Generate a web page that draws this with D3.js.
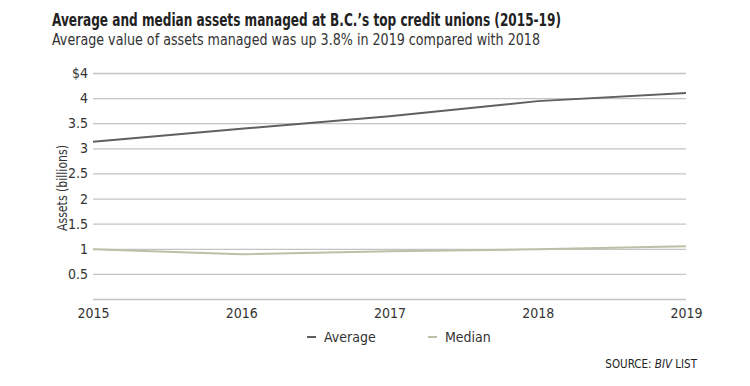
<!DOCTYPE html>
<html>
<head>
<meta charset="utf-8">
<script src="https://cdn.jsdelivr.net/npm/d3@7"></script>
<style>
  body { margin: 0; background: #fff; }
  svg text { font-family: "DejaVu Sans Condensed", "DejaVu Sans", sans-serif; font-stretch: condensed; }
</style>
</head>
<body>
<div id="chart"></div>
<script>
// data
const years = [2015, 2016, 2017, 2018, 2019]
const average = [3.13, 3.39, 3.64, 3.94, 4.10]
const median = [0.99, 0.89, 0.95, 0.99, 1.05]
const yTicks = [0, 0.5, 1, 1.5, 2, 2.5, 3, 3.5, 4, 4.5]
const yTickLabels = ['', '0.5', '1', '1.5', '2', '2.5', '3', '3.5', '4', '$4']

const w = 750, h = 386
const margin = {top: 73, right: 64, bottom: 87, left: 93}

let svg = d3.select('#chart')
    .append('svg')
    .attr('width', w)
    .attr('height', h)

let x = d3.scaleLinear()
    .domain([2015, 2019])
    .range([margin.left, w - margin.right])

let y = d3.scaleLinear()
    .domain([0, 4.5])
    .range([h - margin.bottom, margin.top])

// title + subtitle, squeezed to the widths in the original
svg.append('text')
    .attr('x', 52).attr('y', 26)
    .attr('font-size', 18).attr('font-weight', 'bold')
    .attr('fill', '#222')
    .attr('textLength', 509)
    .attr('lengthAdjust', 'spacingAndGlyphs')
    .text('Average and median assets managed at B.C.\u2019s top credit unions (2015-19)')

svg.append('text')
    .attr('x', 52).attr('y', 45)
    .attr('font-size', 15)
    .attr('fill', '#333')
    .attr('textLength', 488)
    .attr('lengthAdjust', 'spacingAndGlyphs')
    .text('Average value of assets managed was up 3.8% in 2019 compared with 2018')

// gridlines + y labels
let yAxis = d3.axisLeft(y)
    .tickValues(yTicks)
    .tickSize(-(w - margin.left - margin.right))
    .tickPadding(5)
    .tickFormat((d, i) => yTickLabels[i])

svg.append('g')
    .attr('transform', 'translate(' + margin.left + ',0)')
    .call(yAxis)
    .call(g => g.select('.domain').remove())
    .call(g => g.selectAll('line').attr('stroke', '#c4c4c4').attr('stroke-width', 1.3))
    .call(g => g.selectAll('text').attr('font-size', 14).attr('fill', '#333'))

// x labels
let xAxis = d3.axisBottom(x)
    .tickValues(years)
    .tickSize(0)
    .tickPadding(9)
    .tickFormat(d3.format('d'))

svg.append('g')
    .attr('transform', 'translate(0,' + (h - margin.bottom) + ')')
    .call(xAxis)
    .call(g => g.select('.domain').remove())
    .call(g => g.selectAll('text').attr('font-size', 14).attr('fill', '#333'))

svg.append('text')
    .attr('transform', 'translate(67,188) rotate(-90)')
    .attr('text-anchor', 'middle')
    .attr('font-size', 14)
    .attr('fill', '#333')
    .attr('textLength', 86)
    .attr('lengthAdjust', 'spacingAndGlyphs')
    .text('Assets (billions)')

// lines
let line = d3.line()
    .x((d, i) => x(years[i]))
    .y(d => y(d))

svg.append('path')
    .datum(median)
    .attr('d', line)
    .attr('fill', 'none')
    .attr('stroke', '#bdbfa6')
    .attr('stroke-width', 2)

svg.append('path')
    .datum(average)
    .attr('d', line)
    .attr('fill', 'none')
    .attr('stroke', '#606060')
    .attr('stroke-width', 2)

// legend
let legend = [
    {name: 'Average', color: '#606060', x: 307},
    {name: 'Median', color: '#bdbfa6', x: 428}
]

let lg = svg.selectAll('.legend')
    .data(legend)
    .enter()
    .append('g')
    .attr('class', 'legend')
    .attr('transform', d => 'translate(' + d.x + ',337)')

lg.append('line')
    .attr('x1', 0).attr('x2', 9)
    .attr('stroke', d => d.color)
    .attr('stroke-width', 2)

lg.append('text')
    .attr('x', 17).attr('y', 5)
    .attr('font-size', 14)
    .attr('fill', '#333')
    .text(d => d.name)

// source
let src = svg.append('text')
    .attr('x', 697).attr('y', 368)
    .attr('text-anchor', 'end')
    .attr('font-size', 11.5)
    .attr('fill', '#222')
src.append('tspan').text('SOURCE: ')
src.append('tspan').attr('font-style', 'italic').text('BIV')
src.append('tspan').text(' LIST')
</script>
</body>
</html>
